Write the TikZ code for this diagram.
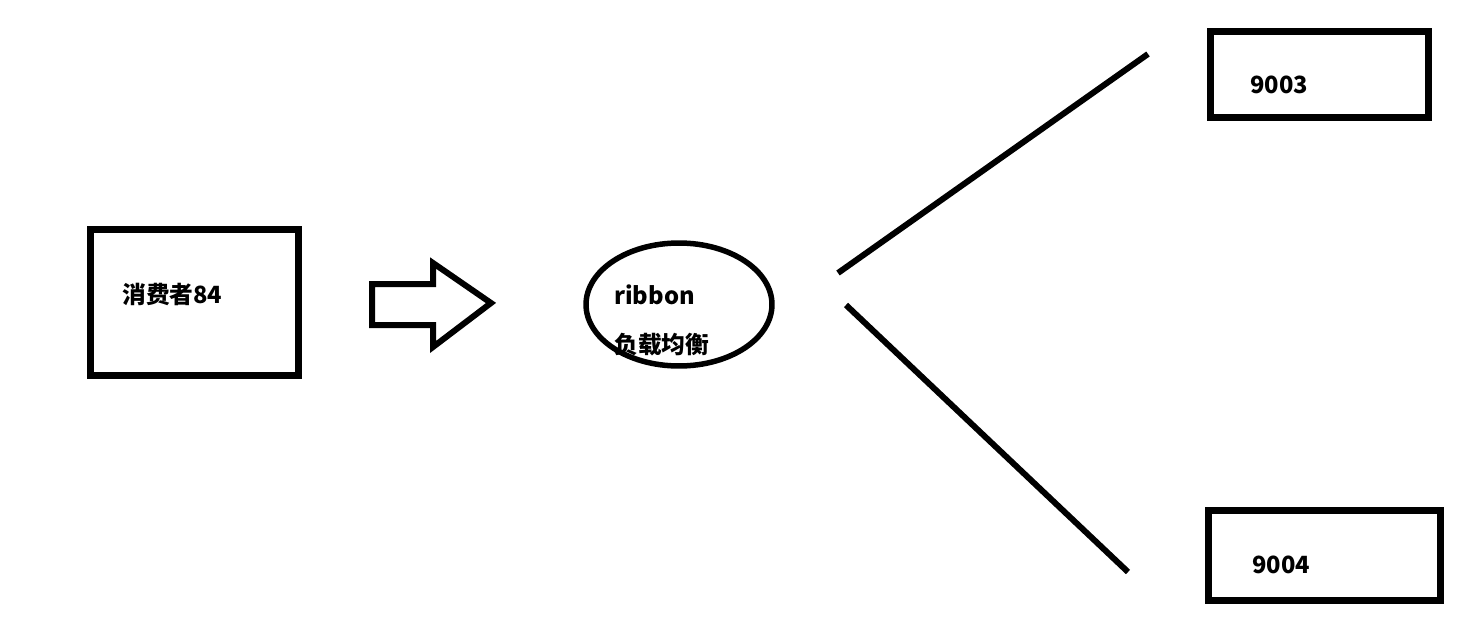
\documentclass[tikz,border=0pt]{standalone}
\usepackage{fontspec}
\newfontfamily\cjk{Noto Sans CJK SC}
\usetikzlibrary{shapes.geometric}

\begin{document}
\begin{tikzpicture}[x=0.02cm,y=-0.02cm,
    box/.style={draw,line width=0.14cm,inner sep=0pt},
    txt/.style={inner sep=0pt,font=\cjk\bfseries\fontsize{13.5}{17}\selectfont},
    lb/.style={draw,ellipse,line width=0.11cm,inner sep=0pt}]
        \useasboundingbox (0,0) rectangle (1474,635);
        \node[box,minimum width=4.16cm,minimum height=2.92cm] (consumer) at (194.5,302.5) {};
        \node[txt,anchor=west] (consumertxt) at (122,294) {消费者84};
        % big hollow arrow
        \draw[line width=0.12cm,line join=miter] (372,284) -- (433,284) -- (433,263) -- (491,303) -- (433,347) -- (433,325) -- (372,325) -- cycle;
        \node[lb,minimum width=3.72cm,minimum height=2.46cm] (ribbon) at (679,304.5) {};
        \node[txt,anchor=west,align=left] (ribbontxt) at (614,320) {ribbon\\[0.38cm]负载均衡};
        \node[box,minimum width=4.36cm,minimum height=1.74cm] (p9003) at (1319.5,74.5) {};
        \node[txt,anchor=west] (p9003txt) at (1250,84.5) {9003};
        \node[box,minimum width=4.64cm,minimum height=1.8cm] (p9004) at (1324.5,555.5) {};
        \node[txt,anchor=west] (p9004txt) at (1252,564.5) {9004};
        \coordinate (up1) at (838,273);
        \coordinate (up2) at (1148,54);
        \coordinate (dn1) at (846,305);
        \coordinate (dn2) at (1128,572);
        \draw[line width=0.12cm] (up1) -- (up2);
        \draw[line width=0.12cm] (dn1) -- (dn2);
    \end{tikzpicture}
\end{document}
